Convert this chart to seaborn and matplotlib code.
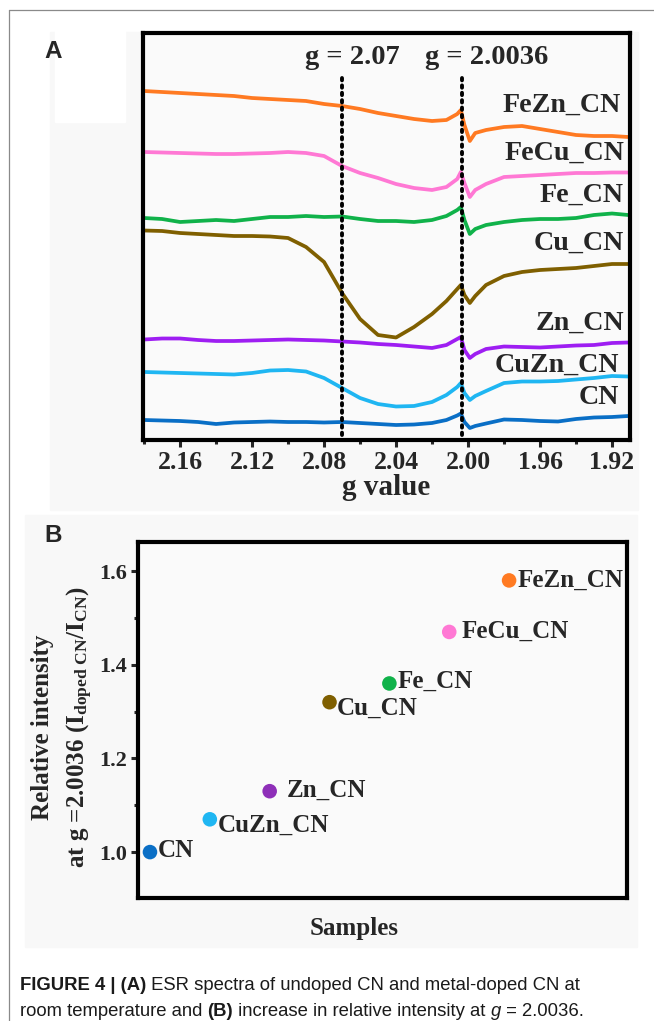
import matplotlib
matplotlib.use("Agg")
import numpy as np
import pandas as pd
import matplotlib.pyplot as plt
import seaborn as sns
from matplotlib.patches import Rectangle
from matplotlib.lines import Line2D
from matplotlib.ticker import MultipleLocator, FormatStrFormatter

# ---- Panel A data: ESR spectra (arbitrary units, curves stacked as in figure) ----
G_VALUES = [2.180, 2.170, 2.160, 2.150, 2.140, 2.130, 2.120, 2.110, 2.100, 2.090,
            2.080, 2.070, 2.060, 2.050, 2.040, 2.030, 2.020, 2.012, 2.006, 2.004,
            2.002, 1.999, 1.996, 1.990, 1.980, 1.970, 1.960, 1.950, 1.940, 1.930,
            1.920, 1.911]

FEZN_CN = [34.9, 34.8, 34.7, 34.6, 34.5, 34.4, 34.2, 34.1, 34.0, 33.9, 33.6, 33.4,
           33.1, 32.7, 32.4, 32.1, 31.9, 32.0, 32.6, 33.0, 31.5, 29.9, 30.7, 31.0,
           31.3, 31.4, 31.1, 30.8, 30.5, 30.4, 30.4, 30.3]
FECU_CN = [28.8, 28.75, 28.7, 28.65, 28.6, 28.6, 28.65, 28.7, 28.8, 28.7, 28.4, 27.4,
           26.7, 26.2, 25.6, 25.2, 25.0, 25.3, 26.1, 26.8, 25.7, 24.3, 25.0, 25.6,
           26.3, 26.4, 26.5, 26.6, 26.7, 26.7, 26.75, 26.75]
FE_CN = [22.2, 22.1, 21.8, 21.9, 22.0, 21.9, 22.1, 22.3, 22.3, 22.4, 22.3, 22.35,
         22.1, 21.9, 21.9, 21.8, 22.0, 22.4, 23.0, 23.3, 22.0, 20.6, 21.1, 21.5,
         21.8, 22.0, 22.1, 22.1, 22.2, 22.5, 22.65, 22.5]
CU_CN = [20.95, 20.9, 20.7, 20.6, 20.5, 20.4, 20.4, 20.35, 20.2, 19.3, 17.8, 14.7,
         12.1, 10.5, 10.25, 11.3, 12.6, 13.9, 15.1, 15.5, 14.5, 13.7, 14.4, 15.5,
         16.4, 16.8, 17.0, 17.1, 17.2, 17.4, 17.6, 17.6]
ZN_CN = [10.05, 10.15, 10.15, 10.0, 9.9, 9.9, 9.95, 10.0, 10.05, 10.0, 9.95, 9.85,
         9.75, 9.6, 9.5, 9.35, 9.2, 9.5, 10.1, 10.3, 9.0, 8.2, 8.6, 9.1,
         9.35, 9.3, 9.25, 9.35, 9.45, 9.5, 9.7, 9.75]
CUZN_CN = [6.8, 6.75, 6.7, 6.65, 6.6, 6.55, 6.7, 6.95, 7.0, 6.85, 6.2, 5.2,
           4.2, 3.6, 3.35, 3.4, 3.8, 4.5, 5.3, 5.7, 4.7, 4.0, 4.4, 4.9,
           5.7, 5.85, 5.85, 5.9, 6.05, 6.2, 6.4, 6.35]
CN = [2.0, 1.95, 1.9, 1.8, 1.6, 1.75, 1.8, 1.85, 1.8, 1.8, 1.75, 1.8,
      1.7, 1.6, 1.5, 1.55, 1.7, 2.0, 2.45, 2.65, 1.8, 1.2, 1.4, 1.65,
      2.05, 2.0, 1.9, 1.85, 2.1, 2.25, 2.3, 2.4]

SPECTRA_NAMES = ["FeZn_CN", "FeCu_CN", "Fe_CN", "Cu_CN", "Zn_CN", "CuZn_CN", "CN"]
SPECTRA = [FEZN_CN, FECU_CN, FE_CN, CU_CN, ZN_CN, CUZN_CN, CN]
MARKER_G = [2.07, 2.0036]
MARKER_LABELS = ["g = 2.07", "g = 2.0036"]

# ---- Panel B data: relative intensity at g = 2.0036 ----
SAMPLES = ["CN", "CuZn_CN", "Zn_CN", "Cu_CN", "Fe_CN", "FeCu_CN", "FeZn_CN"]
SAMPLE_POS = [1, 2, 3, 4, 5, 6, 7]
REL_INTENSITY = [1.00, 1.07, 1.13, 1.32, 1.36, 1.47, 1.58]

LINE_COLORS = {"FeZn_CN": "#FF7A22", "FeCu_CN": "#FF78D4", "Fe_CN": "#10B24A",
               "Cu_CN": "#7F5F00", "Zn_CN": "#9E1EF2", "CuZn_CN": "#1FB6F2",
               "CN": "#0A6FC6"}
POINT_COLORS = dict(LINE_COLORS, Zn_CN="#8E2FB8")

W, H = 654, 1021
SERIF = ["Liberation Serif", "DejaVu Serif"]
SANS = ["Liberation Sans", "DejaVu Sans"]


def fx(x):
    return x / W


def fy(y):
    return 1 - y / H


sns.set_theme(style="ticks")
plt.rcParams["font.family"] = SERIF
plt.rcParams["mathtext.fontset"] = "custom"
plt.rcParams["mathtext.rm"] = "Liberation Serif:bold"
plt.rcParams["mathtext.it"] = "Liberation Serif:bold"
plt.rcParams["mathtext.bf"] = "Liberation Serif:bold"

fig = plt.figure(figsize=(W / 100, H / 100), dpi=100)
fig.patch.set_facecolor("white")

# page frame and panel backgrounds
fig.add_artist(Line2D([fx(9), fx(9)], [fy(10), fy(H)], color="#8a8a8a", lw=0.9))
fig.add_artist(Line2D([fx(9), fx(W)], [fy(10), fy(10)], color="#8a8a8a", lw=0.9))
fig.add_artist(Rectangle((fx(50), fy(510)), fx(588), 478 / H, color="#f8f8f8", zorder=0))
fig.add_artist(Rectangle((fx(55), fy(122)), fx(70), 92 / H, color="white", zorder=0))
fig.add_artist(Rectangle((fx(25), fy(947)), fx(612), 432 / H, color="#f8f8f8", zorder=0))

# ================= Panel A =================
axA = fig.add_axes([fx(143), fy(440), fx(630 - 143), (440 - 33) / H])
axA.set_facecolor("#fafafa")
for name, vals in zip(SPECTRA_NAMES, SPECTRA):
    df = pd.DataFrame({"g": G_VALUES, "intensity": vals})
    sns.lineplot(data=df, x="g", y="intensity", color=LINE_COLORS[name], lw=2.7,
                 sort=False, estimator=None, ax=axA, legend=False)

for g in MARKER_G:
    axA.plot([g, g], [0.5, 36.6], color="black", lw=2.8, ls=(0, (0.6, 1.3)),
             dash_capstyle="round", zorder=5)

axA.set_xlim(2.1806, 1.910)
axA.set_ylim(0, 40.7)
axA.set_yticks([])
axA.xaxis.set_major_locator(MultipleLocator(0.04))
axA.xaxis.set_minor_locator(MultipleLocator(0.02))
axA.xaxis.set_major_formatter(FormatStrFormatter("%.2f"))
axA.tick_params(axis="x", which="major", direction="out", length=5, width=2.2,
                labelsize=18.5, pad=3)
axA.tick_params(axis="x", which="minor", direction="out", length=3, width=2.2)
for lab in axA.get_xticklabels():
    lab.set_fontweight("bold")
for sp in axA.spines.values():
    sp.set_linewidth(3)
    sp.set_color("black")
axA.set_xlabel("g value", fontsize=21, fontweight="bold", labelpad=0)
axA.set_ylabel("")

fig.text(fx(352), fy(57), MARKER_LABELS[0], fontsize=20.5, fontweight="bold",
         ha="center", va="center")
fig.text(fx(487), fy(57), MARKER_LABELS[1], fontsize=20.5, fontweight="bold",
         ha="center", va="center")

label_y = {"FeZn_CN": 105, "FeCu_CN": 153, "Fe_CN": 195, "Cu_CN": 243,
           "Zn_CN": 323, "CuZn_CN": 365, "CN": 397}
label_x = {"FeZn_CN": 621, "FeCu_CN": 624, "Fe_CN": 624, "Cu_CN": 624,
           "Zn_CN": 624, "CuZn_CN": 619, "CN": 619}
for name in SPECTRA_NAMES:
    fig.text(fx(label_x[name]), fy(label_y[name]), name, fontsize=20.2,
             fontweight="bold", ha="right", va="center")

fig.text(fx(44), fy(52), "A", family=SANS, fontsize=17.5, fontweight="bold",
         ha="left", va="center")

# ================= Panel B =================
axB = fig.add_axes([fx(138), fy(898), fx(627 - 138), (898 - 542) / H])
axB.set_facecolor("#fafafa")
dfB = pd.DataFrame({"pos": SAMPLE_POS, "rel": REL_INTENSITY, "sample": SAMPLES})
sns.scatterplot(data=dfB, x="pos", y="rel", hue="sample", palette=POINT_COLORS,
                s=110, edgecolor="none", legend=False, ax=axB, zorder=4, clip_on=False)

offsets = {"CN": (8, -2), "CuZn_CN": (8, 6), "Zn_CN": (17, -1), "Cu_CN": (7, 6),
           "Fe_CN": (8, -2), "FeCu_CN": (12, -1), "FeZn_CN": (8, 0)}
for pos, val, name in zip(SAMPLE_POS, REL_INTENSITY, SAMPLES):
    dx, dy = offsets[name]
    axB.annotate(name, (pos, val), xytext=(dx, -dy), textcoords="offset pixels",
                 fontsize=18, fontweight="bold", ha="left", va="center")

axB.set_xlim(0.8, 8.97)
axB.set_ylim(0.902, 1.662)
axB.set_xticks([])
axB.yaxis.set_major_locator(MultipleLocator(0.2))
axB.yaxis.set_minor_locator(MultipleLocator(0.1))
axB.yaxis.set_major_formatter(FormatStrFormatter("%.1f"))
axB.tick_params(axis="y", which="major", direction="out", length=5, width=2.2,
                labelsize=16, pad=3)
axB.tick_params(axis="y", which="minor", direction="out", length=3, width=2.2)
for lab in axB.get_yticklabels():
    lab.set_fontweight("bold")
for sp in axB.spines.values():
    sp.set_linewidth(3)
    sp.set_color("black")
axB.set_xlabel("")
axB.set_ylabel("")

fig.text(fx(354), fy(928), "Samples", fontsize=18, fontweight="bold",
         ha="center", va="center")
fig.text(fx(43), fy(727), "Relative intensity", fontsize=18, fontweight="bold",
         rotation=90, ha="center", va="center")
fig.text(fx(80), fy(727),
         r"at g =2.0036 (I$_{\mathrm{doped\ CN}}$/I$_{\mathrm{CN}}$)",
         fontsize=18, fontweight="bold", rotation=90, ha="center", va="center")

fig.text(fx(44), fy(535), "B", family=SANS, fontsize=17.5, fontweight="bold",
         ha="left", va="center")

# ================= Caption =================
renderer = fig.canvas.get_renderer()


def caption_line(x0, y0, pieces):
    x = x0
    for txt, weight, style in pieces:
        t = fig.text(fx(x), fy(y0), txt, family=SANS, fontsize=13.3,
                     fontweight=weight, style=style, ha="left", va="baseline",
                     color="#1a1a1a")
        x += t.get_window_extent(renderer).width


caption_line(20, 990, [("FIGURE 4 | (A)", "bold", "normal"),
                       (" ESR spectra of undoped CN and metal-doped CN at", "normal", "normal")])
caption_line(20, 1016, [("room temperature and ", "normal", "normal"),
                        ("(B)", "bold", "normal"),
                        (" increase in relative intensity at ", "normal", "normal"),
                        ("g", "normal", "italic"),
                        (" = 2.0036.", "normal", "normal")])

fig.savefig("out.png", dpi=100)
